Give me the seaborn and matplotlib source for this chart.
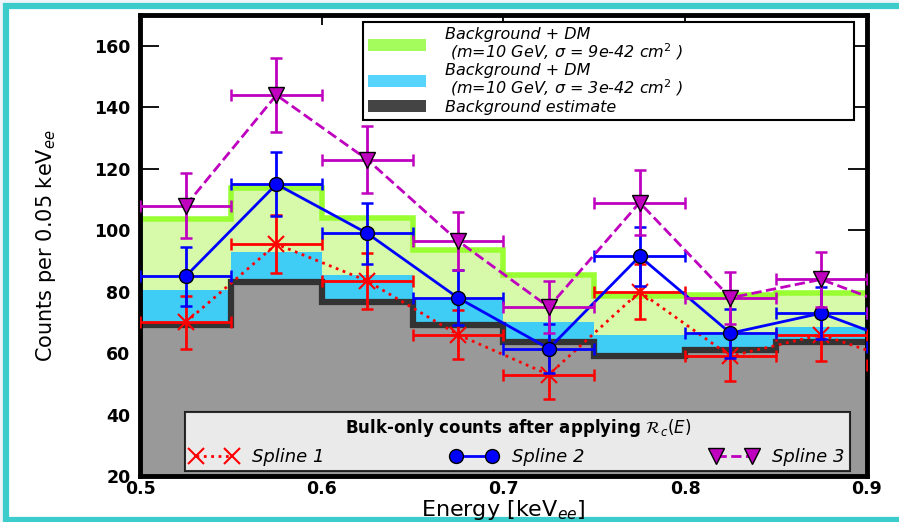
import matplotlib
matplotlib.use("Agg")
import matplotlib.pyplot as plt
from matplotlib.patches import Patch, Rectangle
from matplotlib.lines import Line2D
import seaborn as sns

# Bin edges and step heights (counts per 0.05 keVee)
edges = [0.5, 0.55, 0.6, 0.65, 0.7, 0.75, 0.8, 0.85, 0.9]
background = [69, 83, 76.5, 69, 63.5, 59, 61, 63.5]
dm_3e42 = [80.7, 93, 85.4, 77.3, 70.2, 65.9, 66, 68.6]
dm_9e42 = [103.8, 113.6, 104, 93.6, 85.4, 78.7, 79, 79.5]

# Spline points (bin centres, last one lies just past the axis)
centers = [0.525, 0.575, 0.625, 0.675, 0.725, 0.775, 0.825, 0.875, 0.925]
spline1 = [70, 95.5, 83.5, 66, 53, 80, 59, 66, 56]
spline1_err = [8.5, 9.5, 9, 8, 8, 9, 8, 8.5, 8]
spline2 = [85, 115, 99, 78, 61.5, 91.5, 66.5, 73, 62]
spline2_err = [9.5, 10.5, 10, 9, 8, 9.7, 8, 8.5, 8]
spline3 = [108, 144, 123, 96.5, 75, 109, 78, 84, 73]
spline3_err = [10.5, 12, 11, 9.5, 8.5, 10.5, 8.5, 9, 8.5]
x_halfwidth = 0.025

xticks = [0.5, 0.6, 0.7, 0.8, 0.9]
yticks = [20, 40, 60, 80, 100, 120, 140, 160]

sns.set_theme(style="ticks")
plt.rcParams['font.family'] = ['DejaVu Sans']
plt.rcParams['mathtext.fontset'] = 'dejavusans'
plt.rcParams['text.color'] = 'black'
plt.rcParams['axes.labelcolor'] = 'black'

fig = plt.figure(figsize=(8.99, 5.22), dpi=100)
fig.patch.set_facecolor('#eef5f8')
fig.patches.append(Rectangle((6 / 899, 2 / 522), 1.2, 514 / 522, transform=fig.transFigure,
                             facecolor='white', edgecolor='#3dcccc', lw=4.5, zorder=-1))

ax = fig.add_axes([0.156, 0.088, 0.808, 0.883])
ax.set_facecolor('white')

# stacked step histograms
ax.stairs(background, edges, baseline=0, fill=True, color='#999999', lw=0, zorder=1)
ax.stairs(dm_3e42, edges, baseline=background, fill=True, color='#40cdf5', lw=0, zorder=1)
ax.stairs(dm_9e42, edges, baseline=dm_3e42, fill=True, color='#d6f9aa', lw=0, zorder=1)
ax.stairs(dm_9e42, edges, baseline=None, color='#99ff33', lw=4, zorder=2)
ax.stairs(background, edges, baseline=None, color='#333333', lw=4.5, zorder=2)

# splines with error bars
styles = [
    (spline1, spline1_err, 'red', ':', 'x', 11, 1.5),
    (spline2, spline2_err, 'blue', '-', 'o', 10, 1),
    (spline3, spline3_err, '#bf00bf', '--', 'v', 11, 1),
]
for i, (vals, errs, col, ls, mk, ms, mew) in enumerate(styles):
    ax.errorbar(centers, vals, yerr=errs, xerr=x_halfwidth, fmt='none', ecolor=col,
                elinewidth=2, capsize=4, capthick=1.8, zorder=3 + i)
    sns.lineplot(x=centers, y=vals, ax=ax, color=col, linestyle=ls, lw=2,
                 marker=mk, markersize=ms, markeredgewidth=mew,
                 markeredgecolor=col if mk == 'x' else 'black', zorder=3 + i,
                 sort=False, estimator=None)

ax.set_xlim(0.5, 0.9)
ax.set_ylim(20, 170)
ax.set_xticks(xticks, [f"{t:.1f}" for t in xticks], fontweight='bold')
ax.set_yticks(yticks, [str(t) for t in yticks], fontweight='bold')
ax.tick_params(direction='in', top=True, right=True, width=1.3,
               labelsize=12.5, colors='black')
ax.tick_params(axis='x', length=7, pad=3)
ax.tick_params(axis='y', length=14, pad=7)
for sp in ax.spines.values():
    sp.set_linewidth(3.5)
    sp.set_color('black')

ax.set_xlabel("Energy [keV$_{ee}$]", fontsize=16, labelpad=0)
ax.set_ylabel("Counts per 0.05 keV$_{ee}$", fontsize=15, labelpad=26)

# legend for the histograms
hist_handles = [
    Patch(facecolor='#a4fb5c', edgecolor='none'),
    Patch(facecolor='#56d4fb', edgecolor='none'),
    Patch(facecolor='#444444', edgecolor='none'),
]
hist_labels = [
    "Background + DM\n (m=10 GeV, $\\sigma$ = 9e-42 cm$^2$ )",
    "Background + DM\n (m=10 GeV, $\\sigma$ = 3e-42 cm$^2$ )",
    "Background estimate",
]
leg1 = ax.legend(hist_handles, hist_labels, loc='upper left',
                 bbox_to_anchor=(0.307, 0.77, 0.676, 0.215), mode='expand',
                 borderaxespad=0, prop={'style': 'italic', 'size': 11.5},
                 handlelength=3.6, handleheight=0.8, handletextpad=1.2,
                 labelspacing=0.1, borderpad=0.3, fancybox=False, framealpha=1,
                 edgecolor='black')
for t in leg1.get_texts():
    t.set_linespacing(0.95)
leg1.get_frame().set_linewidth(1.5)
leg1.set_zorder(10)
ax.add_artist(leg1)

# legend for the splines
spline_handles = [
    Line2D([], [], color='red', ls=':', lw=2, marker='x', ms=11, mew=1.5),
    Line2D([], [], color='blue', ls='-', lw=2, marker='o', ms=10, mec='black', mew=1),
    Line2D([], [], color='#bf00bf', ls='--', lw=2, marker='v', ms=11, mec='black', mew=1),
]
leg2 = ax.legend(spline_handles, ["Spline 1", "Spline 2", "Spline 3"], loc='lower left',
                 bbox_to_anchor=(0.062, 0.01, 0.915, 0.11), mode='expand', ncol=3,
                 borderaxespad=0, numpoints=2,
                 title="Bulk-only counts after applying $\\mathcal{R}_c(E)$",
                 title_fontproperties={'weight': 'bold', 'size': 12},
                 prop={'style': 'italic', 'size': 13}, handlelength=2.6,
                 handletextpad=0.8, borderpad=0.3, fancybox=False, framealpha=0.8,
                 facecolor='white', edgecolor='black')
leg2.get_frame().set_linewidth(1.5)
leg2.set_zorder(10)

fig.savefig("out.png", dpi=100)
